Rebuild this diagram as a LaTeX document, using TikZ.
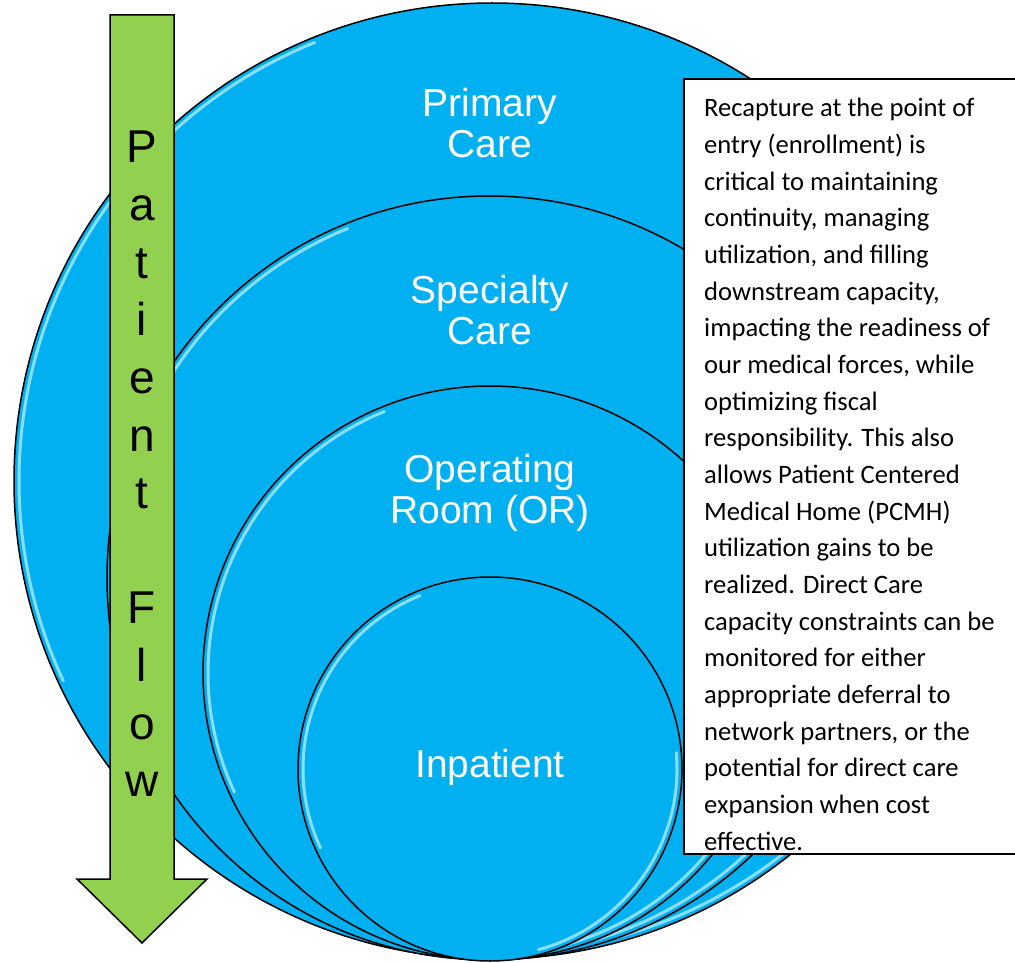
\documentclass[tikz,border=0pt]{standalone}
\usepackage{fontspec}
\setmainfont{Liberation Sans}
\newfontfamily\calib{Carlito}
\definecolor{cblue}{HTML}{00B0F0}
\definecolor{cgreen}{HTML}{92D050}
\definecolor{chl}{HTML}{B8F0FF}
\begin{document}
\begin{tikzpicture}[x=1pt,y=-1pt,
  ring/.style={circle,draw=black,line width=1.5pt,fill=cblue,inner sep=0pt,minimum size=#1},
  hl/.style={draw=chl,line width=3pt,opacity=0.75,line cap=round},
  clabel/.style={text=white,align=center,font=\fontsize{39}{41}\selectfont,inner sep=0pt},
  letter/.style={anchor=base,font=\fontsize{46}{46}\selectfont,inner sep=0pt},
  bodyline/.style={anchor=base west,inner sep=0pt,font=\calib\fontsize{26.6}{30}\selectfont}]
\useasboundingbox (0,0) rectangle (1015,963);
% circles
\node[ring=956pt] (c1) at (492,481) {};
\draw[hl] (c1.center) ++(-112:473) arc[start angle=-112,end angle=-205,radius=473];
\draw[hl] (c1.center) ++(75:473) arc[start angle=75,end angle=-5,radius=473];
\node[ring=764pt] (c2) at (489,578) {};
\draw[hl] (c2.center) ++(-112:377) arc[start angle=-112,end angle=-205,radius=377];
\draw[hl] (c2.center) ++(75:377) arc[start angle=75,end angle=-5,radius=377];
\node[ring=574pt] (c3) at (490,673) {};
\draw[hl] (c3.center) ++(-112:282) arc[start angle=-112,end angle=-205,radius=282];
\draw[hl] (c3.center) ++(75:282) arc[start angle=75,end angle=-5,radius=282];
\node[ring=384pt] (c4) at (490,769) {};
\draw[hl] (c4.center) ++(-112:187) arc[start angle=-112,end angle=-205,radius=187];
\draw[hl] (c4.center) ++(75:187) arc[start angle=75,end angle=-5,radius=187];
% labels
\node[clabel] (lp) at (490,123) {Primary\\Care};
\node[clabel] (ls) at (490,310) {Specialty\\Care};
\node[clabel] (lo) at (490,493) {Operating\\Room (OR)};
\node[clabel] (li) at (490,767) {Inpatient};
% text box
\draw[fill=white,line width=1.8pt] (684,79) rectangle (1030,854);
\foreach \t [count=\i] in {{Recapture at the point of},{entry (enrollment) is},{critical to maintaining},{continuity, managing},{utilization, and filling},{downstream capacity,},{impacting the readiness of},{our medical forces, while},{optimizing fiscal},{responsibility.  This also},{allows Patient Centered},{Medical Home (PCMH)},{utilization gains to be},{realized.  Direct Care},{capacity constraints can be},{monitored for either},{appropriate deferral to},{network partners, or the},{potential for direct care},{expansion when cost},{effective.}}
  \node[bodyline] (t\i) at (704,{117+36.65*(\i-1)}) {\t};
% arrow
\draw[fill=cgreen,line width=1.5pt,line join=miter] (110,15) -- (174,15) -- (174,879) -- (207,879) -- (142,943) -- (77,879) -- (110,879) -- cycle;
\foreach \ch/\k in {P/0,a/1,t/2,i/3,e/4,n/5,t/6,F/8,l/9,o/10,w/11}
  \node[letter] (f\k) at (142,{163+57.6*\k}) {\ch};
\end{tikzpicture}
\end{document}
